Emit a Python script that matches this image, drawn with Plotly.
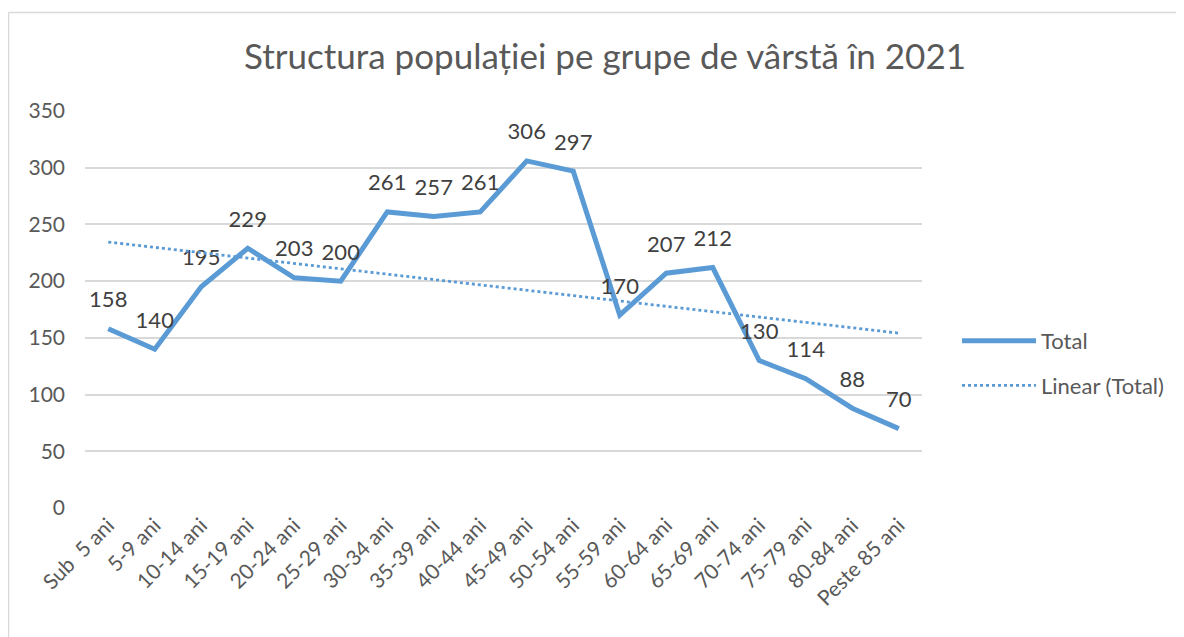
import numpy as np
import plotly.graph_objects as go

categories = ["Sub  5 ani", "5-9 ani", "10-14 ani", "15-19 ani", "20-24 ani", "25-29 ani",
              "30-34 ani", "35-39 ani", "40-44 ani", "45-49 ani", "50-54 ani", "55-59 ani",
              "60-64 ani", "65-69 ani", "70-74 ani", "75-79 ani", "80-84 ani", "Peste 85 ani"]
total = [158, 140, 195, 229, 203, 200, 261, 257, 261, 306, 297, 170, 207, 212, 130, 114, 88, 70]
y_ticks = [0, 50, 100, 150, 200, 250, 300, 350]

# Linear trendline (least squares, as Excel computes it)
idx = np.arange(1, len(total) + 1)
slope, intercept = np.polyfit(idx, np.array(total, dtype=float), 1)
trend = (slope * idx + intercept).tolist()

BLUE = "#5B9BD5"
FONT = "Lato"
GREY = "#595959"

OFF = 8  # page body margin
W, H = 1184 - OFF, 637 - OFF
# plot area in reference-screen pixels
PX0, PX1, PY0, PY1 = 85, 922, 111, 508
L, R, T, B = PX0 - OFF, W - (PX1 - OFF), PY0 - OFF, H - (PY1 - OFF)
pw, ph = PX1 - PX0, PY1 - PY0

def px_x(p):
    return (p - PX0) / pw

def px_y(p):
    return (PY1 - p) / ph

fig = go.Figure()
fig.add_trace(go.Scatter(
    x=categories, y=total, name="Total", mode="lines+markers+text",
    line=dict(color=BLUE, width=5),
    marker=dict(size=24, color="rgba(0,0,0,0)"),
    text=[str(v) for v in total], textposition="top center",
    textfont=dict(family=FONT, size=22, color="#404040"),
    legendgroup="a", hoverinfo="x+y",
))
fig.add_trace(go.Scatter(
    x=categories, y=trend, name="Linear (Total)", mode="lines",
    line=dict(color=BLUE, width=2.8, dash="dot"), legendgroup="b",
))

# chart border (left and top only visible)
fig.add_shape(type="line", xref="paper", yref="paper",
              x0=px_x(8.5), x1=px_x(8.5), y0=px_y(640), y1=px_y(12.5),
              line=dict(color="#D9D9D9", width=1.5), layer="below")
fig.add_shape(type="line", xref="paper", yref="paper",
              x0=px_x(8.5), x1=px_x(1190), y0=px_y(12.5), y1=px_y(12.5),
              line=dict(color="#D9D9D9", width=1.5), layer="below")

fig.update_layout(
    width=W, height=H,
    margin=dict(l=L, r=R, t=T, b=B),
    paper_bgcolor="white", plot_bgcolor="white",
    font=dict(family=FONT, size=22, color=GREY),
    title=dict(text="Structura populației pe grupe de vârstă în 2021",
               font=dict(family=FONT, size=35, color=GREY),
               x=px_x(605), xanchor="center", xref="paper",
               y=1 - (57 - OFF) / H, yanchor="middle"),
    showlegend=True,
    legend=dict(x=px_x(957), y=px_y(320), xanchor="left", yanchor="top",
                font=dict(family=FONT, size=22, color=GREY),
                itemwidth=74, tracegroupgap=13, bgcolor="rgba(0,0,0,0)"),
    xaxis=dict(showgrid=False, showline=False, zeroline=False, ticks="",
               tickangle=-45, tickfont=dict(family=FONT, size=21, color=GREY),
               range=[-0.5, len(categories) - 0.5]),
    yaxis=dict(range=[0, 350], tickvals=y_ticks, showgrid=True, gridcolor="#D9D9D9",
               gridwidth=1.5, zeroline=False, showline=False, ticks="",
               tickfont=dict(family=FONT, size=21, color=GREY), ticklabelstandoff=19),
)

fig.write_html("out.html")
